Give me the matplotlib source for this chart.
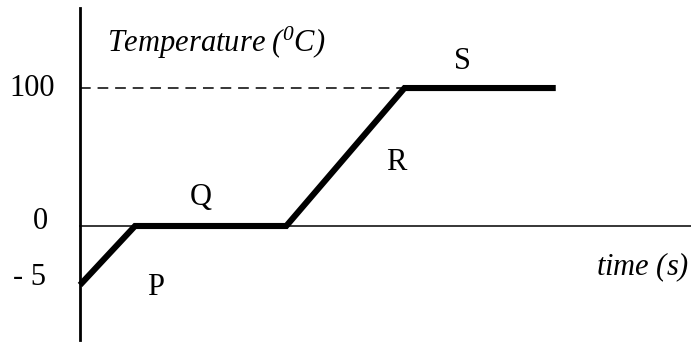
import matplotlib.pyplot as plt
import numpy as np

# heating curve, schematic values
time_pts = [0, 2, 7.5, 11.8, 17.3]
temp_pts = [-5, 0, 0, 100, 100]
seg_labels = ['P', 'Q', 'R', 'S']
seg_label_xy = [(2.75, -5.2), (4.4, 21), (11.5, 46), (13.9, 119)]
tick_vals = [100, 0, -5]
tick_text = ['100', '0', '- 5']

plt.rcParams['font.family'] = ['Liberation Serif', 'DejaVu Serif']
plt.rcParams['mathtext.fontset'] = 'custom'
plt.rcParams['mathtext.it'] = 'Liberation Serif:italic'
plt.rcParams['mathtext.rm'] = 'Liberation Serif:italic'

K = 8.55  # below zero is stretched in the drawing

def fwd(y):
    y = np.asarray(y, dtype=float)
    return np.where(y >= 0, y, K * y)

def inv(y):
    y = np.asarray(y, dtype=float)
    return np.where(y >= 0, y, y / K)

fig = plt.figure(figsize=(6.91, 3.43), dpi=100)
ax = fig.add_axes([0, 0, 1, 1])
ax.set_yscale('function', functions=(fwd, inv))
ax.set_xlim(-2.909, 22.218)
ax.set_ylim(-84.8 / K, 163.8)
ax.axis('off')

# axes lines
ax.plot([0, 0], [-82.6 / K, 158], color='black', lw=2)
ax.plot([0, 22.3], [0, 0], color='black', lw=1.1)
ax.plot([0, time_pts[3]], [100, 100], color='black', lw=1.1,
        dashes=(7, 4.5))

ax.plot(time_pts, temp_pts, color='black', lw=4.4, solid_joinstyle='miter',
        solid_capstyle='butt')

for lab, (x, y) in zip(seg_labels, seg_label_xy):
    ax.text(x, y, lab, fontsize=22, ha='center', va='center')

tick_x = [-0.9, -1.45, -1.85]
tick_y = [100, 2.9, -4.4]
for tx, ty, t in zip(tick_x, tick_y, tick_text):
    ax.text(tx, ty, t, fontsize=22, ha='right' if t == '100' else 'center',
            va='center')

ax.text(1.0, 133, r'$Temperature\ (^{0}C)$', fontsize=22, ha='left',
        va='center')
ax.text(22.15, -3.5, r'$time\ (s)$', fontsize=22, ha='right', va='center')

plt.savefig('out.png', dpi=100)
